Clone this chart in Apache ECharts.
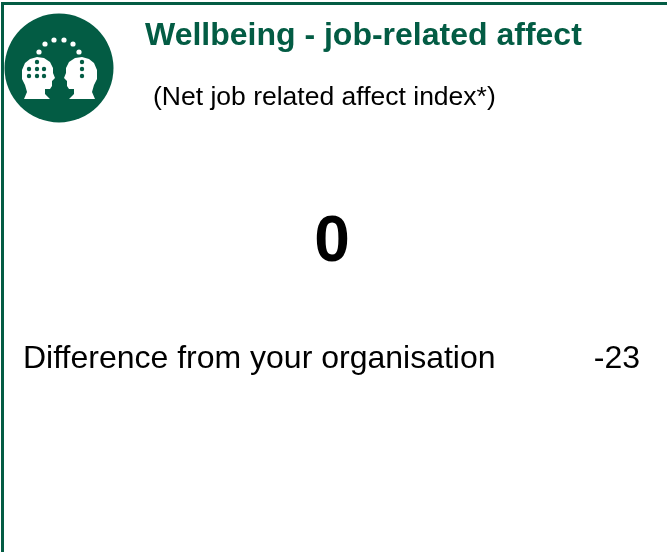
<!DOCTYPE html>
<html>
<head>
<meta charset="utf-8">
<style>
  html, body { margin: 0; padding: 0; background: #fff; }
  #main { width: 667px; height: 552px; }
</style>
<script src="https://cdn.jsdelivr.net/npm/echarts@6/dist/echarts.min.js"></script>
</head>
<body>
<div id="main"></div>
<script>
const titleText = 'Wellbeing - job-related affect'
const subtitleText = '(Net job related affect index*)'
const diffLabel = 'Difference from your organisation'
const scoreValue = [0]
const diffValue = [-23]

const green = '#035c44'
const font = '"Liberation Sans", Arial, sans-serif'

// left head outline, the right one is the same thing mirrored around x = 59.5
const headPoints = [
  [24, 99], [27, 92], [25, 85], [22, 79], [22, 70], [25, 63], [30, 59], [37, 57], [44, 58],
  [50, 62], [53, 68], [53, 73], [55, 78], [52, 81], [52, 86], [50, 89], [45, 89],
  [45, 94], [50, 99]
]
const mirror = (points) => points.map(([x, y]) => [119 - x, y])

const dots = (points, fill, r) => points.map(([cx, cy]) => ({
  type: 'circle',
  shape: { cx, cy, r },
  style: { fill }
}))

const text = (x, y, str, size, weight, fill, align) => ({
  type: 'text',
  x,
  y,
  style: {
    text: str,
    font: `${weight} ${size}px ${font}`,
    fill,
    textAlign: align || 'left',
    textVerticalAlign: 'middle'
  }
})

const myChart = echarts.init(document.getElementById('main'))
myChart.setOption({
  animation: false,
  graphic: [
    { type: 'rect', shape: { x: 1, y: 2, width: 666, height: 3 }, style: { fill: green } },
    { type: 'rect', shape: { x: 1, y: 2, width: 3, height: 550 }, style: { fill: green } },
    { type: 'circle', shape: { cx: 59, cy: 68, r: 54.5 }, style: { fill: green } },
    ...dots([[39, 52], [45, 44], [54, 40], [64, 40], [73, 44], [79, 52]], '#fff', 2.6),
    { type: 'polygon', shape: { points: headPoints }, style: { fill: '#fff' } },
    { type: 'polygon', shape: { points: mirror(headPoints) }, style: { fill: '#fff' } },
    ...dots([[37, 62], [29, 69], [37, 69], [44, 69], [29, 76], [37, 76], [44, 76]], green, 2.2),
    ...dots([[82, 62], [82, 69], [82, 76]], green, 2.2),
    text(145, 36.5, titleText, 32, 'bold', green),
    text(153, 97.5, subtitleText, 26.5, 'normal', '#000'),
    text(332, 243, String(scoreValue[0]), 64, 'bold', '#000', 'center'),
    text(23, 359, diffLabel, 32, 'normal', '#000'),
    text(640, 359, String(diffValue[0]), 32, 'normal', '#000', 'right')
  ]
})
</script>
</body>
</html>
